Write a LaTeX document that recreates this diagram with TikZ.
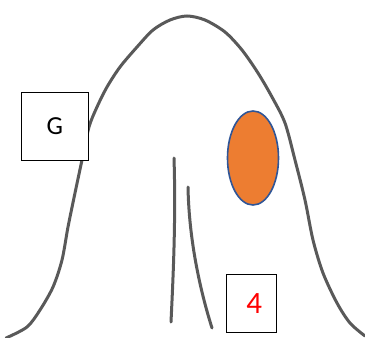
\documentclass[tikz,border=0pt]{standalone}
\usepackage{fontspec}
\setmainfont{Carlito}
\usetikzlibrary{positioning,shapes.geometric}

\definecolor{outlinegray}{HTML}{595959}
\definecolor{spotorange}{HTML}{ED7D31}
\definecolor{spotblue}{HTML}{2F5597}

\tikzstyle{labelbox} = [
rectangle,
draw=black,
line width=1.2pt,
fill=white,
text centered,
inner sep=0pt
]
\tikzstyle{outline} = [
draw=outlinegray,
line width=3pt,
line cap=round
]
\tikzstyle{spot} = [
ellipse,
draw=spotblue,
line width=1.6pt,
fill=spotorange,
inner sep=0pt
]

\begin{document}
\begin{tikzpicture}[
x=1pt,
y=-1pt
]

\useasboundingbox (0,0) rectangle (365,338);

% body outline
\draw [outline] plot [smooth, tension=0.5] coordinates {
(6,338) (27,327) (40,310) (53,287) (62,260) (68,227) (75,193)
(82,160) (89,127) (97,107) (107,87) (120,67) (137,47) (153,30)
(170,20) (187,16) (205,20) (225,32) (242,50) (258,73) (272,97)
(285,123) (295,160) (305,200) (313,240) (323,273) (337,303)
(350,323) (365,336)};

% inner strokes
\draw [outline] (174,158) .. controls (176,220) and (173,280) .. (171,322);
\draw [outline] (188,187) .. controls (189,240) and (200,290) .. (212,328);

\node (spot) [spot, minimum width=51pt, minimum height=94pt] at (253,158) {};

\node (gbox) [labelbox, minimum width=67pt, minimum height=68pt] at (54.8,126.5)
{\fontsize{26}{30}\selectfont G};

\node (fourbox) [labelbox, minimum width=50pt, minimum height=58pt] at (251.3,303.5)
{\hspace{6pt}\fontsize{31}{36}\selectfont\color{red}4};

\end{tikzpicture}
\end{document}
